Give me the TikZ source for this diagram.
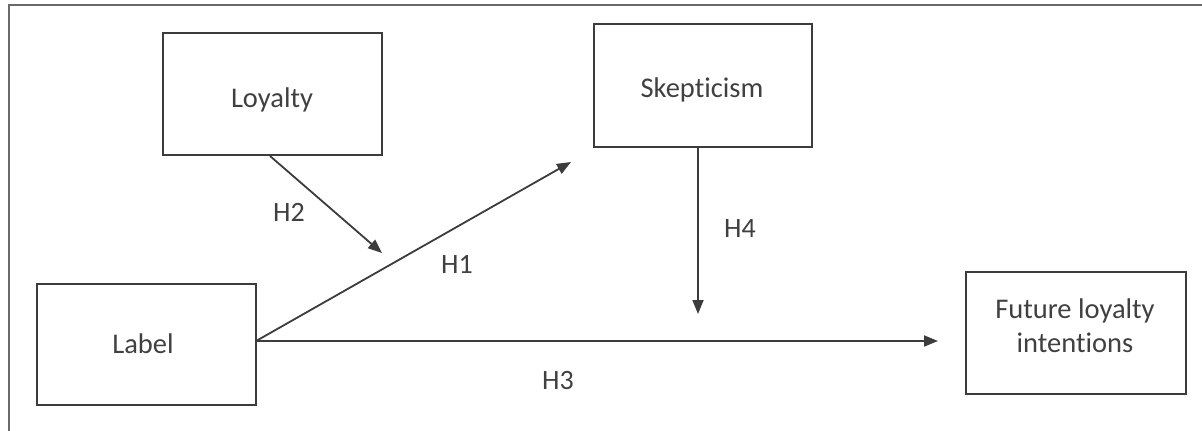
\documentclass[tikz,border=0pt]{standalone}
\usepackage{fontspec}
\setmainfont[Ligatures=NoCommon]{Carlito}
\usetikzlibrary{arrows.meta}
\definecolor{lineclr}{HTML}{3C3C3C}
\definecolor{txtclr}{HTML}{404040}
\definecolor{frameclr}{HTML}{6A6A6A}
\tikzset{
  box/.style={draw=lineclr, line width=2pt, rectangle, inner sep=0pt},
  btext/.style={text=txtclr, font=\fontsize{28.5}{34}\selectfont, inner sep=0pt,
    anchor=base, align=center},
  conn/.style={draw=lineclr, line width=1.8pt, -{Triangle[length=14pt,width=11pt]}},
  hlab/.style={text=txtclr, font=\fontsize{28}{32}\selectfont, inner sep=0pt, anchor=base}
}
\begin{document}
\begin{tikzpicture}[x=1pt,y=-1pt]
\useasboundingbox (0,0) rectangle (1202,431);
% outer frame (only top and left visible)
\draw[frameclr, line width=2pt] (1202,5) -- (9,5) -- (9,431);
% boxes
\node[box, minimum width=219pt, minimum height=122pt] (loy) at (272.5,94) {};
\node[box, minimum width=218pt, minimum height=123pt] (skep) at (703,85.5) {};
\node[box, minimum width=219pt, minimum height=121pt] (lab) at (146.5,344.5) {};
\node[box, minimum width=220pt, minimum height=122pt] (fut) at (1076,333) {};
% box texts
\node[btext] (loyt) at (272,107) {Loyalty};
\node[btext] (skept) at (702,97) {Skepticism};
\node[btext] (labt) at (143,353) {Label};
\node[btext] (futt) at (1075,352) {Future loyalty\\intentions};
% free ends
\coordinate (h1end) at (571,162);
\coordinate (h2end) at (382,253);
\coordinate (h4end) at (698,314);
\coordinate (h3end) at (938,341);
% connectors
\draw[conn] ([yshift=4pt]lab.east) -- (h1end);
\draw[conn] ([xshift=-2.5pt]loy.south) -- (h2end);
\draw[conn] ([yshift=3.5pt]lab.east) -- (h3end);
\draw[conn] ([xshift=-5pt]skep.south) -- (h4end);
% labels
\node[hlab] (H1) at (457,273) {H1};
\node[hlab] (H2) at (289,221) {H2};
\node[hlab] (H3) at (558,389) {H3};
\node[hlab] (H4) at (740,237) {H4};
\end{tikzpicture}
\end{document}
